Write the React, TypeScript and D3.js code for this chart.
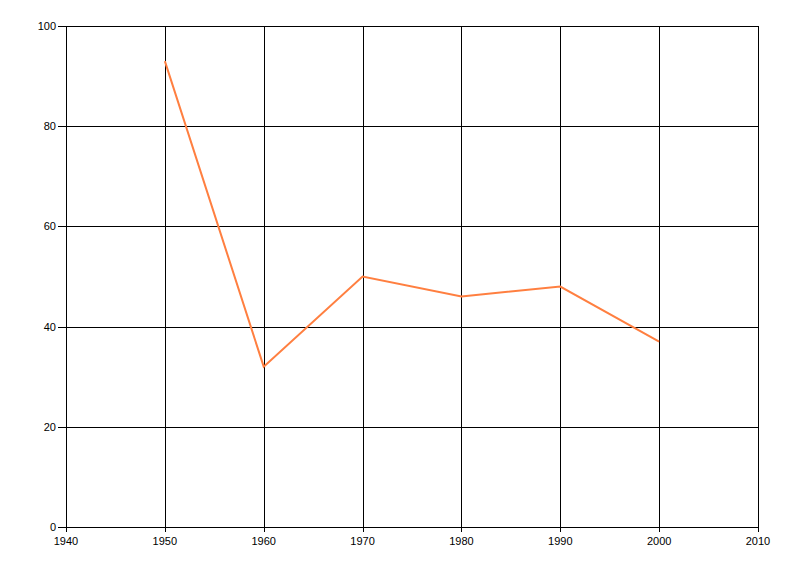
import React from "react";
import * as d3 from "d3";

const years = [1950, 1960, 1970, 1980, 1990, 2000];
const values = [93, 32, 50, 46, 48, 37];
const xTicks = [1940, 1950, 1960, 1970, 1980, 1990, 2000, 2010];
const yTicks = [0, 20, 40, 60, 80, 100];

export default function App() {
  const W = 800, H = 576;
  const m = { left: 66, right: 42, top: 26, bottom: 49 };
  const x = d3.scaleLinear().domain([1940, 2010]).range([m.left, W - m.right]);
  const y = d3.scaleLinear().domain([0, 100]).range([H - m.bottom, m.top]);
  const line = d3.line<number>().x((_, i) => x(years[i])).y((d) => y(d));
  const font = "'Liberation Sans', Arial, sans-serif";
  return (
    <svg width={W} height={H} style={{ position: "absolute", left: 0, top: 0, background: "#fff" }}>
      <g shapeRendering="crispEdges" stroke="#000" strokeWidth={1}>
        {yTicks.map((t) => (
          <line key={"y" + t} x1={x(1940) - 8} x2={x(2010)} y1={Math.round(y(t)) + 0.5} y2={Math.round(y(t)) + 0.5} />
        ))}
        {xTicks.map((t) => (
          <line key={"x" + t} x1={Math.round(x(t)) + 0.5} x2={Math.round(x(t)) + 0.5} y1={y(100)} y2={y(0) + 5} />
        ))}
      </g>
      <g fontFamily={font} fontSize={11} fill="#000">
        {yTicks.map((t) => (
          <text key={"yl" + t} x={x(1940) - 10} y={y(t) + 4} textAnchor="end">{t}</text>
        ))}
        {xTicks.map((t) => (
          <text key={"xl" + t} x={x(t)} y={y(0) + 18} textAnchor="middle">{t}</text>
        ))}
      </g>
      <path d={line(values) || ""} fill="none" stroke="#FF7F40" strokeWidth={2} strokeLinejoin="miter" />
    </svg>
  );
}
